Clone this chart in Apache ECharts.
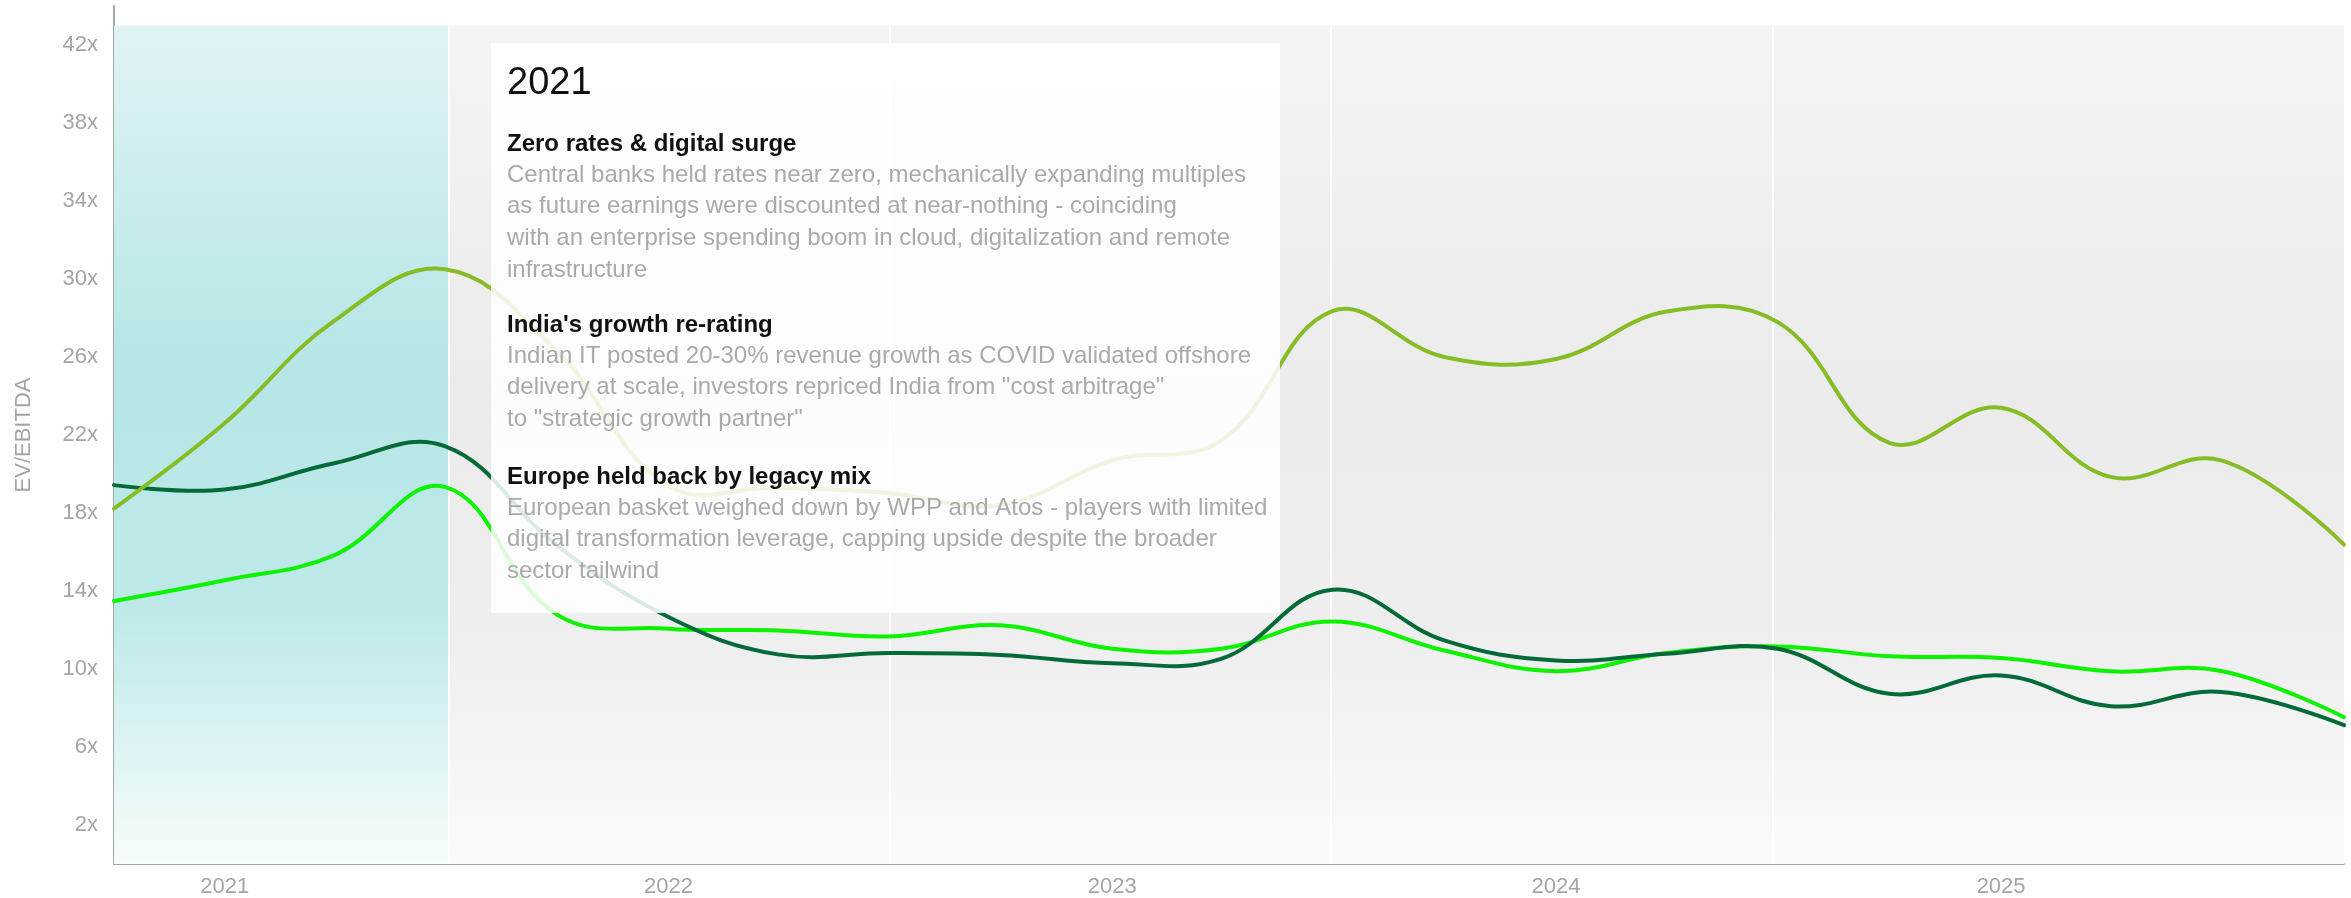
<!DOCTYPE html>
<html>
<head>
<meta charset="utf-8">
<script src="https://cdn.jsdelivr.net/npm/echarts/dist/echarts.min.js"></script>
<style>
  html, body { margin: 0; padding: 0; background: #ffffff; }
  #chart { width: 2351px; height: 898px; }
</style>
</head>
<body>
<div id="chart"></div>
<script>
// ---------------- DATA ----------------
const dates = [
  '2020-10-02',
  '2021-01-01', '2021-04-01', '2021-07-01', '2021-10-01',
  '2022-01-01', '2022-04-01', '2022-07-01', '2022-10-01',
  '2023-01-01', '2023-04-01', '2023-07-01', '2023-10-01',
  '2024-01-01', '2024-04-01', '2024-07-01', '2024-10-01',
  '2025-01-01', '2025-04-01', '2025-07-01', '2025-10-10'
];

// EV/EBITDA multiples (x)
const indiaValues = [
  18.23,
  22.6, 27.85, 30.5, 26.3,
  19.4, 19.3, 19.03, 18.4,
  20.7, 21.74, 28.35, 26.0,
  25.9, 28.33, 27.8, 21.6,
  23.4, 19.85, 20.7, 16.38
];
const globalValues = [
  19.43,
  19.2, 20.55, 21.43, 16.35,
  12.67, 10.75, 10.82, 10.72,
  10.3, 10.53, 14.07, 11.47,
  10.44, 10.78, 11.04, 8.73,
  9.67, 8.09, 8.82, 7.12
];
const europeValues = [
  13.49,
  14.55, 15.83, 19.34, 12.8,
  12.07, 11.98, 11.67, 12.24,
  11.04, 11.04, 12.44, 10.95,
  9.89, 10.82, 11.16, 10.65,
  10.56, 9.88, 9.9, 7.53
];

// period bands (boundaries); first band is the highlighted one
const periodBounds = ['2020-10-02', '2021-07-04', '2022-07-02', '2023-06-30', '2024-06-27', '2025-10-10'];
const bandTop = 43;

const yTickLabels = [2, 6, 10, 14, 18, 22, 26, 30, 34, 38, 42];

const annotationTitle = '2021';
const annotationBlocks = [
  { heading: 'Zero rates & digital surge',
    lines: ['Central banks held rates near zero, mechanically expanding multiples',
            'as future earnings were discounted at near-nothing - coinciding',
            'with an enterprise spending boom in cloud, digitalization and remote',
            'infrastructure'] },
  { heading: "India's growth re-rating",
    lines: ['Indian IT posted 20-30% revenue growth as COVID validated offshore',
            'delivery at scale, investors repriced India from "cost arbitrage"',
            'to "strategic growth partner"'] },
  { heading: 'Europe held back by legacy mix',
    lines: ['European basket weighed down by WPP and Atos - players with limited',
            'digital transformation leverage, capping upside despite the broader',
            'sector tailwind'] }
];

// ---------------- STYLE ----------------
const FONT = '"Liberation Sans", Arial, sans-serif';
const axisGray = '#a6a6a6';
const labelGray = '#a5a5a5';

function toTime(s) { const p = s.split('-').map(Number); return new Date(p[0], p[1] - 1, p[2]).getTime(); }
const times = dates.map(toTime);

const tealGrad = new echarts.graphic.LinearGradient(0, 0, 0, 1, [
  { offset: 0, color: '#e1f3f4' },
  { offset: 0.4, color: '#b6e6e6' },
  { offset: 0.7, color: '#bfe9e9' },
  { offset: 1, color: '#f7fcfc' }
]);
const grayGrad = () => new echarts.graphic.LinearGradient(0, 0, 0, 1, [
  { offset: 0, color: '#f4f4f4' },
  { offset: 0.45, color: '#ebebeb' },
  { offset: 0.75, color: '#efefef' },
  { offset: 1, color: '#fbfbfb' }
]);

const bands = [];
for (let i = 0; i < periodBounds.length - 1; i++) {
  bands.push([
    { xAxis: toTime(periodBounds[i]), yAxis: 0, itemStyle: { color: i === 0 ? tealGrad : grayGrad(), borderWidth: 0 } },
    { xAxis: toTime(periodBounds[i + 1]), yAxis: bandTop }
  ]);
}
const separators = periodBounds.slice(1, -1).map(d => ({ xAxis: toTime(d) }));

// annotation graphic
const boxX = 491, boxY = 43, boxW = 789, boxH = 570;
const textX = 507;
const gElems = [
  { type: 'rect', shape: { x: boxX, y: boxY, width: boxW, height: boxH },
    style: { fill: 'rgba(255,255,255,0.86)' }, z: 100, silent: true },
  { type: 'text', x: textX, y: 84, z: 101, silent: true,
    style: { text: annotationTitle, font: '38px ' + FONT, fill: '#111111', verticalAlign: 'middle', align: 'left' } }
];
const headingY = [144, 325, 477];
annotationBlocks.forEach((b, bi) => {
  gElems.push({ type: 'text', x: textX, y: headingY[bi], z: 101, silent: true,
    style: { text: b.heading, font: 'bold 24px ' + FONT, fill: '#111111', verticalAlign: 'middle', align: 'left' } });
  b.lines.forEach((ln, li) => {
    gElems.push({ type: 'text', x: textX, y: headingY[bi] + 31 + li * 31.7, z: 101, silent: true,
      style: { text: ln, font: '24px ' + FONT, fill: '#aaaaaa', verticalAlign: 'middle', align: 'left' } });
  });
});

// smooth line drawn through the library's coordinate system (cardinal-type spline, tension 0.4)
function smoothLine(name, values, color, z, extra) {
  return Object.assign({
    type: 'custom', name: name, z: z, silent: true, animation: false, clip: false,
    data: values.map((v, i) => [times[i], v]),
    encode: { x: 0, y: 1 },
    renderItem: function (params, api) {
      if (params.dataIndex !== 0) return null;
      const pts = values.map((v, i) => api.coord([times[i], v]));
      return {
        type: 'polyline',
        shape: { points: pts, smooth: 0.4 },
        style: { stroke: color, lineWidth: 4, fill: 'none', lineJoin: 'round', lineCap: 'round' }
      };
    }
  }, extra || {});
}

const chart = echarts.init(document.getElementById('chart'), null, { renderer: 'canvas' });

chart.setOption({
  animation: false,
  backgroundColor: '#ffffff',
  grid: { left: 114, right: 7, top: 6, bottom: 34, containLabel: false, outerBoundsMode: 'none' },
  xAxis: {
    type: 'time',
    min: toTime(periodBounds[0]),
    max: toTime(periodBounds[periodBounds.length - 1]),
    minInterval: 365 * 24 * 3600 * 1000,
    axisLine: { show: true, lineStyle: { color: axisGray, width: 2 } },
    axisTick: { show: false },
    splitLine: { show: false },
    axisLabel: {
      show: true, fontSize: 22, color: labelGray, fontFamily: FONT, margin: 12,
      showMinLabel: false, showMaxLabel: false,
      formatter: function (val) {
        const d = new Date(val);
        return (d.getMonth() === 0 && d.getDate() === 1) ? String(d.getFullYear()) : '';
      }
    }
  },
  yAxis: {
    type: 'value', min: 0, max: 44, interval: 2,
    name: 'EV/EBITDA', nameLocation: 'middle', nameGap: 79, nameRotate: 90,
    nameTextStyle: { fontSize: 22, color: labelGray, fontFamily: FONT },
    axisLine: { show: true, lineStyle: { color: axisGray, width: 2 } },
    axisTick: { show: false },
    splitLine: { show: false },
    axisLabel: {
      fontSize: 22, color: labelGray, fontFamily: FONT, margin: 16,
      formatter: function (v) { return yTickLabels.indexOf(v) >= 0 ? v + 'x' : ''; }
    }
  },
  series: [
    smoothLine('Europe', europeValues, '#0DF200', 3, {
      markArea: { silent: true, z: 1, data: bands },
      markLine: { silent: true, symbol: 'none', z: 2, label: { show: false },
        lineStyle: { color: '#ffffff', width: 2, type: 'solid' }, data: separators }
    }),
    smoothLine('Global', globalValues, '#046A38', 4),
    smoothLine('India', indiaValues, '#86BC25', 5)
  ],
  graphic: { elements: gElems }
});
</script>
</body>
</html>
